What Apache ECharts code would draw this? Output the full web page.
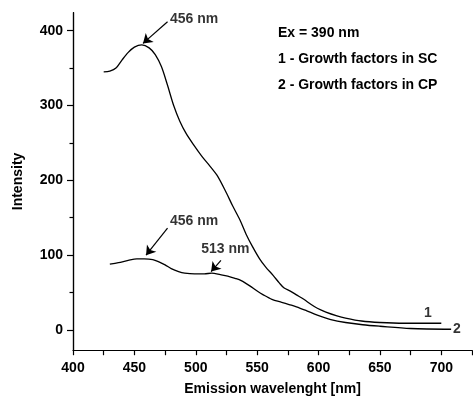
<!DOCTYPE html>
<html>
<head>
<meta charset="utf-8">
<script src="https://cdn.jsdelivr.net/npm/echarts@6/dist/echarts.min.js"></script>
<style>
  html, body { margin: 0; padding: 0; background: #fff; }
  #chart { width: 473px; height: 404px; }
</style>
</head>
<body>
<div id="chart"></div>
<script>
// curve 1 - growth factors in SC
const wl1 = [425, 430, 435, 440, 445, 450, 456, 462, 467, 472, 477, 482, 487, 492, 498, 505, 512, 518, 525,
  530, 536, 541, 546, 552, 557, 563, 568, 572, 577, 582, 588, 594, 599, 606, 615, 622, 635, 650, 670, 700];
const int1 = [345, 346, 350, 361, 371, 378, 381, 377, 368, 352, 327, 300, 279, 263, 248, 232, 218, 205, 183,
  166, 147, 128, 112, 95, 84, 73, 63, 56, 52, 47, 41, 34, 29, 24, 19, 16, 12, 10, 9, 9];

// curve 2 - growth factors in CP
const wl2 = [430, 437, 445, 452, 458, 465, 470, 475, 480, 486, 491, 499, 507, 513, 520, 526, 532, 537, 544, 550,
  555, 562, 570, 576, 582, 590, 599, 610, 622, 636, 650, 675, 708];
const int2 = [88, 90, 93, 95, 95, 94, 91, 87, 82, 78, 76, 75, 75, 76, 74, 72, 69, 66, 59, 52,
  47, 41, 37, 34, 31, 26, 20, 14, 10, 7, 5, 2, 1];

const xTicks = [400, 450, 500, 550, 600, 650, 700];
const yTicks = [0, 100, 200, 300, 400];
const yMinorTicks = [50, 150, 250, 350];

// peak annotations: text, text anchor [nm, intensity], arrow from, arrow to
const peakNotes = [
  { text: '456 nm', at: [479, 415], from: [477, 412], to: [457, 383] },
  { text: '456 nm', at: [479, 146], from: [477, 136], to: [459.5, 100] },
  { text: '513 nm', at: [504.5, 108], from: [520.5, 93], to: [512.5, 78] }
];
const curveTags = [
  { text: '1', at: [686, 22] },
  { text: '2', at: [709.5, 1] }
];
const infoLines = ['Ex = 390 nm', '1 - Growth factors in SC', '2 - Growth factors in CP'];

const font = 'Liberation Sans, Arial, sans-serif';

function pairs(xs, ys) {
  return xs.map(function (x, i) { return [x, ys[i]]; });
}

const chart = echarts.init(document.getElementById('chart'));

const textStyleBase = { color: '#000', fontFamily: font, fontWeight: 'bold', fontSize: 14 };
const axisLineStyle = { show: true, onZero: false, lineStyle: { color: '#000', width: 1.2 } };

const option = {
  animation: false,
  grid: { left: 73, right: 1, top: 12.7, bottom: 53.8 },
  xAxis: {
    // ticks every 25 nm, labels every 50 nm
    type: 'value', min: 400, max: 725, interval: 25,
    name: 'Emission wavelenght [nm]', nameLocation: 'middle', nameGap: 32,
    nameTextStyle: textStyleBase,
    axisLine: axisLineStyle,
    axisTick: { show: true, length: 5, lineStyle: { color: '#000', width: 1.2 } },
    axisLabel: { customValues: xTicks, margin: 11, color: '#000', fontFamily: font, fontWeight: 'bold', fontSize: 14 },
    splitLine: { show: false }
  },
  yAxis: [{
    type: 'value', min: -27, max: 424, position: 'left',
    axisLine: axisLineStyle,
    axisTick: { show: true, customValues: yMinorTicks, length: 3.5, lineStyle: { color: '#000', width: 1.2 } },
    axisLabel: { show: false },
    splitLine: { show: false }
  }, {
    type: 'value', min: -27, max: 424, position: 'left',
    name: 'Intensity', nameLocation: 'middle', nameGap: 48,
    nameTextStyle: textStyleBase,
    axisLine: axisLineStyle,
    axisTick: { show: true, customValues: yTicks, length: 6, lineStyle: { color: '#000', width: 1.2 } },
    axisLabel: { customValues: yTicks, margin: 10, color: '#000', fontFamily: font, fontWeight: 'bold', fontSize: 14 },
    splitLine: { show: false }
  }],
  graphic: infoLines.map(function (t, i) {
    return {
      type: 'text', left: 278, top: 26 + i * 26,
      style: { text: t, fill: '#000', font: 'bold 14px ' + font }
    };
  }),
  series: [{
    type: 'line', name: '1', data: pairs(wl1, int1), smooth: 0.3, showSymbol: false,
    yAxisIndex: 1,
    itemStyle: { color: '#000' },
    lineStyle: { color: '#000', width: 1.3 }, silent: true,
    markLine: {
      silent: true, symbol: ['none', 'arrow'], symbolSize: 9,
      label: { show: false },
      itemStyle: { color: '#000' },
      lineStyle: { color: '#000', width: 1.2, type: 'solid' },
      data: peakNotes.map(function (n) {
        return [{ coord: n.from }, { coord: n.to }];
      })
    }
  }, {
    type: 'line', name: '2', data: pairs(wl2, int2), smooth: 0.3, showSymbol: false,
    yAxisIndex: 1,
    itemStyle: { color: '#000' },
    lineStyle: { color: '#000', width: 1.3 }, silent: true
  }, {
    type: 'scatter', symbolSize: 0, silent: true,
    yAxisIndex: 1,
    data: peakNotes.concat(curveTags).map(function (n) {
      return { value: n.at, name: n.text };
    }),
    label: {
      show: true, position: [0, 0], align: 'left', verticalAlign: 'middle',
      formatter: '{b}', color: '#000', fontFamily: font, fontWeight: 'bold', fontSize: 14
    }
  }]
};

chart.setOption(option);
</script>
</body>
</html>
